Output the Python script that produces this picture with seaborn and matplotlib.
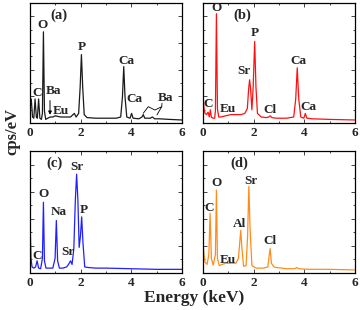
"""EDS spectra of four samples, (a)-(d)."""

import matplotlib
matplotlib.use('Agg')
import matplotlib.pyplot as plt
from matplotlib.ticker import MultipleLocator
import seaborn as sns

# spectrum (a) - energy in keV, intensity in % of axis height
ea = [0.00, 0.05, 0.10, 0.15, 0.20, 0.25, 0.29, 0.34, 0.39, 0.45,
      0.49, 0.53, 0.57, 0.62, 0.70, 0.80, 0.90, 1.00, 1.20, 1.40,
      1.60, 1.75, 1.82, 1.92, 1.98, 2.03, 2.08, 2.14, 2.25, 2.60,
      3.00, 3.40, 3.58, 3.65, 3.70, 3.75, 3.82, 3.95, 4.01, 4.07,
      4.30, 4.42, 4.47, 4.53, 4.75, 4.83, 4.92, 5.10, 5.50, 6.00]
ia = [12, 20, 5, 4, 20, 5, 4, 20, 4, 3,
      8, 76, 10, 3, 4, 5, 5, 6, 5, 5,
      5, 8, 5, 8, 30, 57, 30, 7, 4.5, 4,
      4, 4, 5, 22, 47, 22, 5, 4, 8, 4,
      3.5, 5, 7, 4, 4, 5, 3.5, 3.5, 3, 2.5]

# spectrum (b)
eb = [0.00, 0.04, 0.08, 0.14, 0.20, 0.25, 0.29, 0.33, 0.40, 0.46,
      0.49, 0.53, 0.57, 0.62, 0.70, 0.90, 1.10, 1.30, 1.50, 1.65,
      1.75, 1.80, 1.84, 1.88, 1.93, 1.98, 2.04, 2.09, 2.15, 2.30,
      2.50, 2.60, 2.65, 2.72, 2.90, 3.30, 3.58, 3.66, 3.72, 3.78,
      3.86, 3.98, 4.04, 4.10, 4.30, 5.00, 6.00]
ib = [25, 12, 8, 7, 9, 5, 11, 5, 4, 4,
      10, 91, 12, 5, 5, 6, 7, 7, 7, 8,
      12, 28, 36, 28, 11, 30, 68, 30, 8, 5,
      4.5, 5, 6, 4.5, 4, 4, 5, 20, 46, 20,
      5, 4, 8, 4, 3.5, 3, 2.5]

# spectrum (c)
ec = [0.00, 0.04, 0.08, 0.15, 0.22, 0.28, 0.34, 0.42, 0.49, 0.53,
      0.57, 0.63, 0.75, 0.90, 0.99, 1.04, 1.09, 1.16, 1.30, 1.45,
      1.55, 1.60, 1.66, 1.73, 1.79, 1.84, 1.89, 1.94, 1.99, 2.04,
      2.09, 2.16, 2.30, 2.60, 3.00, 4.00, 5.00, 6.00]
ic = [44, 12, 5, 4, 5, 10, 4, 3.5, 12, 58,
      10, 4, 4, 4, 12, 43, 10, 4, 4, 5,
      8, 10, 7, 20, 60, 81, 60, 21, 30, 46,
      25, 5, 4.5, 4, 4, 3.5, 3, 3]

# spectrum (d)
ed = [0.00, 0.04, 0.08, 0.16, 0.23, 0.28, 0.33, 0.40, 0.49, 0.53,
      0.57, 0.64, 0.75, 0.90, 1.10, 1.30, 1.40, 1.45, 1.49, 1.53,
      1.60, 1.70, 1.76, 1.81, 1.86, 1.93, 2.10, 2.40, 2.56, 2.61,
      2.65, 2.70, 2.80, 2.90, 3.30, 3.62, 3.70, 3.78, 4.20, 5.00, 6.00]
idd = [26, 15, 9, 7, 15, 49, 12, 6.5, 15, 68,
       12, 6, 7, 8, 8, 8, 12, 25, 35, 22,
       5.5, 6, 30, 71, 35, 6, 4, 4, 5, 14,
       20, 8, 5, 4.5, 3.5, 3.5, 4.5, 3.5, 3, 3, 2.5]

# peak labels: (text, energy, height)
labels_a = [('O', 0.50, 82), ('C', 0.28, 25), ('Ba', 0.92, 27), ('Eu', 1.22, 10),
            ('P', 2.04, 63), ('Ca', 3.80, 52), ('Ca', 4.12, 20), ('Ba', 5.35, 21)]
labels_b = [('O', 0.53, 96), ('C', 0.20, 16), ('Eu', 1.00, 12), ('Sr', 1.63, 43),
            ('P', 2.04, 75), ('Cl', 2.66, 11), ('Ca', 3.75, 52), ('Ca', 4.17, 13)]
labels_c = [('O', 0.54, 65), ('C', 0.28, 14), ('Na', 1.12, 50), ('Sr', 1.50, 17),
            ('Sr', 1.84, 87), ('P', 2.13, 52)]
labels_d = [('O', 0.54, 74), ('C', 0.24, 53), ('Eu', 1.00, 11), ('Al', 1.43, 40),
            ('Sr', 1.90, 75), ('Cl', 2.66, 26)]

sns.set_style('ticks')
plt.rcParams['font.family'] = ['Liberation Serif', 'DejaVu Serif']
plt.rcParams['font.weight'] = 'bold'

fig = plt.figure(figsize=(3.6, 3.1), dpi=100)
w, h = 152 / 360, 120 / 310
rects = [[30 / 360, 187 / 310, w, h], [203 / 360, 187 / 310, w, h],
         [30 / 360, 37 / 310, w, 122 / 310], [203 / 360, 37 / 310, w, 122 / 310]]
panels = [(ea, ia, '#1a1a1a', '(a)', 1.13, 90, labels_a),
          (eb, ib, '#ff1010', '(b)', 1.54, 90, labels_b),
          (ec, ic, '#1f1fff', '(c)', 0.97, 90, labels_c),
          (ed, idd, '#ff8c1a', '(d)', 1.45, 90, labels_d)]

axes_list = []
for rect, (x, y, col, tag, tx, ty, labs) in zip(rects, panels):
    ax = fig.add_axes(rect)
    sns.lineplot(x=x, y=y, color=col, linewidth=0.9, sort=False, ax=ax)
    ax.set_xlim(0, 6)
    ax.set_ylim(0, 100)
    ax.xaxis.set_major_locator(MultipleLocator(2))
    ax.xaxis.set_minor_locator(MultipleLocator(1))
    ax.yaxis.set_major_locator(MultipleLocator(22.2))
    ax.yaxis.set_minor_locator(MultipleLocator(11.1))
    ax.tick_params(which='both', direction='in', top=True, right=True,
                   width=0.6, labelleft=False, labelsize=9.5, pad=3)
    ax.tick_params(which='major', length=3)
    ax.tick_params(which='minor', length=1.5)
    for s in ax.spines.values():
        s.set_linewidth(0.9)
        s.set_color('black')
    for lab in ax.get_xticklabels():
        lab.set_fontweight('bold')
    ax.set_xlabel('')
    ax.set_ylabel('')
    ax.text(tx, ty, tag, ha='center', va='center', fontsize=10.5, fontweight='bold')
    for t, lx, ly in labs:
        ax.text(lx, ly, t, ha='center', va='center', fontsize=9.5, fontweight='bold')
    axes_list.append(ax)

# arrow for Ba in (a) and brace for the Ba L lines
ax_a = axes_list[0]
ax_a.annotate('', xy=(0.79, 4.5), xytext=(0.79, 21),
              arrowprops=dict(arrowstyle='-|>', lw=0.7, color='black', mutation_scale=5))
ax_a.plot([4.47, 4.67, 4.93, 5.20, 5.01], [8.1, 13.6, 10.8, 13.6, 6.7],
          color='black', lw=0.6)
ax_a.plot([5.20, 5.21], [13.6, 16.5], color='black', lw=0.6)

fig.text(0.539, 0.04, 'Energy (keV)', ha='center', va='center',
         fontsize=12.5, fontweight='bold')
fig.text(0.035, 0.575, 'cps/eV', ha='center', va='center', rotation=90,
         fontsize=12, fontweight='bold')

fig.savefig('out.png', dpi=100)
